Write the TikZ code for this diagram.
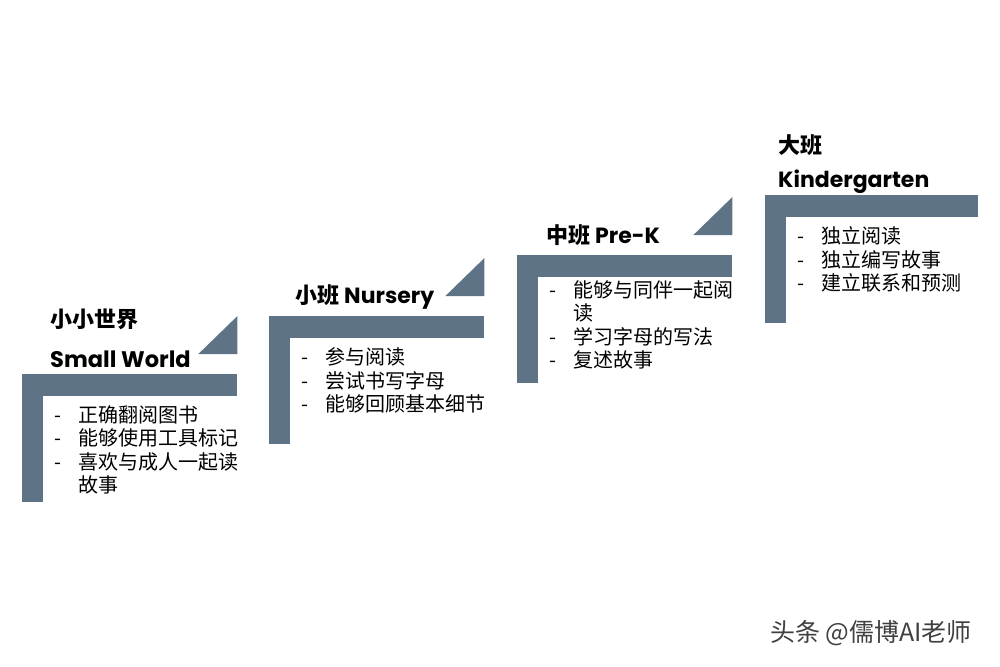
\documentclass[tikz,border=0pt]{standalone}
\usepackage{fontspec}
\setmainfont{Noto Sans CJK SC}
\newfontfamily\latfont{Poppins}
\usepackage{tikz}
\usetikzlibrary{positioning,calc}
\definecolor{slate}{RGB}{94,115,134}

\newcommand{\itm}[1]{\makebox[24pt][l]{-}#1}
\newcommand{\cont}[1]{\hspace*{24pt}#1}

\begin{document}
\begin{tikzpicture}[
	x=1pt, y=-1pt,
	bar/.style={fill=slate,inner sep=0,minimum width=215pt,minimum height=22pt,anchor=north west},
	post/.style={fill=slate,inner sep=0,minimum width=21pt,minimum height=128pt,anchor=north west},
	head/.style={anchor=base west,inner sep=0,font=\fontsize{22}{26}\selectfont\bfseries},
	items/.style={inner sep=0,align=left,font=\fontsize{20}{23.5}\selectfont},
	wmark/.style={anchor=west,inner sep=0,text=black!75,font=\fontsize{25}{30}\selectfont}
	]
	\useasboundingbox (0,0) rectangle (1000,666);
	
	% the four steps
	\node[bar] (bar1) at (22,374) {};
	\node[bar] (bar2) at (269,316) {};
	\node[bar] (bar3) at (517,255) {};
	\node[bar,minimum width=213pt] (bar4) at (765,195) {};
	\foreach \i in {1,...,4}
		\node[post] (post\i) at (bar\i.north west) {};
	\foreach \i in {1,2,3}
		\fill[slate] ($(bar\i.north east)+(0,-20)$) -- ++(0,-38) -- ++(-39,38) -- cycle;
	
	% titles
	\node[head] (name1) at ($(bar1.north west)+(28,-7)$) {\latfont\fontsize{22.5}{26}\selectfont Small World};
	\node[head] (cn1) at ($(bar1.north west)+(28,-47)$) {小小世界};
	\node[head] (name2) at ($(bar2.north west)+(26,-13)$) {小班 \latfont Nursery};
	\node[head] (name3) at ($(bar3.north west)+(29,-12)$) {中班 \latfont Pre-K};
	\node[head] (name4) at ($(bar4.north west)+(13,-8)$) {\latfont Kindergarten};
	\node[head] (cn4) at ($(bar4.north west)+(13,-42)$) {大班};
	
	% lists
	\node[items,below right=9pt and 32pt of bar1.south west] (list1) {\itm{正确翻阅图书}\\
		\itm{能够使用工具标记}\\
		\itm{喜欢与成人一起读}\\
		\cont{故事}};
	\node[items,below right=9pt and 32pt of bar2.south west] (list2) {\itm{参与阅读}\\
		\itm{尝试书写字母}\\
		\itm{能够回顾基本细节}};
	\node[items,below right=3pt and 32pt of bar3.south west] (list3) {\itm{能够与同伴一起阅}\\
		\cont{读}\\
		\itm{学习字母的写法}\\
		\itm{复述故事}};
	\node[items,below right=9pt and 32pt of bar4.south west] (list4) {\itm{独立阅读}\\
		\itm{独立编写故事}\\
		\itm{建立联系和预测}};
	
	\node[wmark] (credit) at (770,633) {头条 @儒博AI老师};
\end{tikzpicture}
\end{document}
